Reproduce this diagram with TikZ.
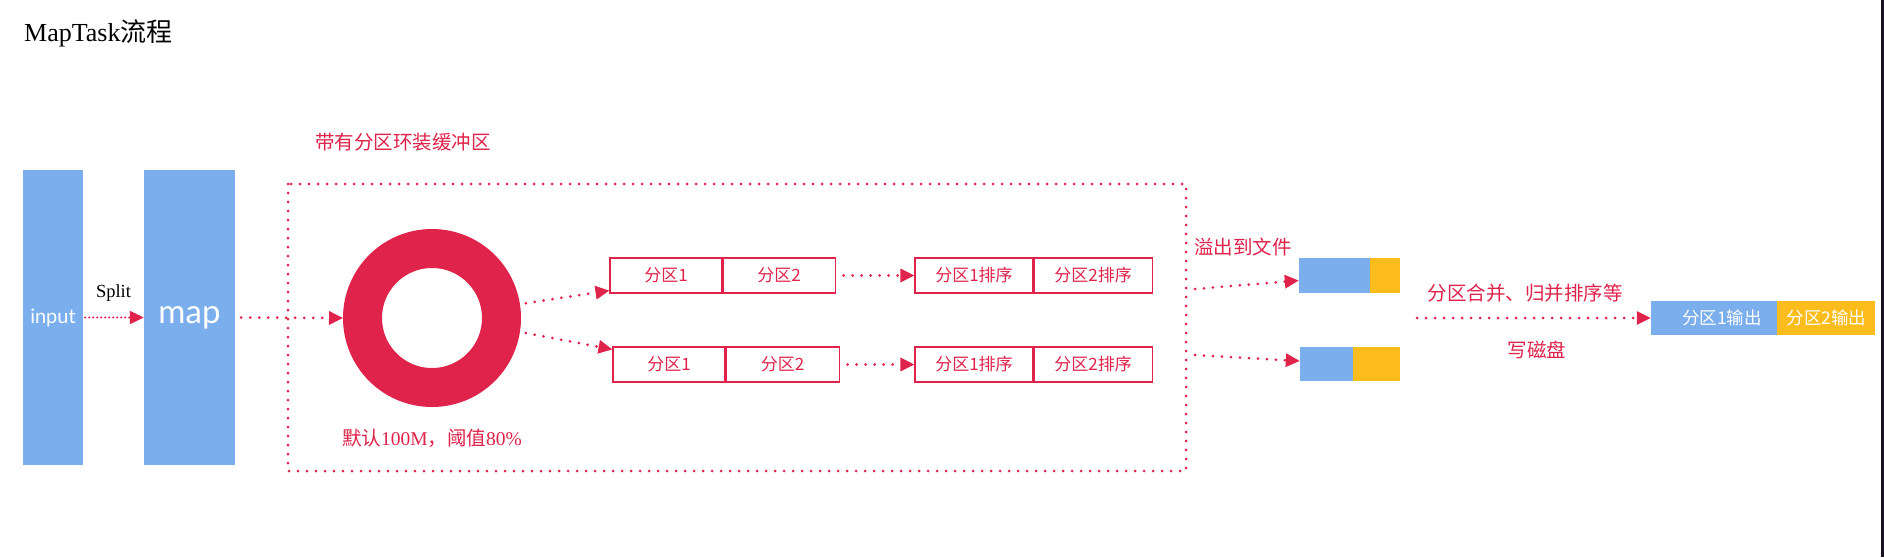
\documentclass[tikz,border=0pt]{standalone}
\usepackage{fontspec}
\newfontfamily\cjk{Noto Sans CJK SC}
\newfontfamily\latosans{Lato}
\newfontfamily\serifL{Liberation Serif}
\usetikzlibrary{arrows.meta,calc}
\definecolor{blueC}{HTML}{7BAEEC}
\definecolor{redC}{HTML}{E0234A}
\definecolor{yelC}{HTML}{FCBD1C}
\definecolor{edgeC}{HTML}{1A1024}
\tikzset{
  bluebox/.style={fill=blueC, draw=none, inner sep=0pt, text=white},
  yelbox/.style={fill=yelC, draw=none, inner sep=0pt, text=white},
  partbox/.style={draw=redC, line width=1.1pt, text=redC, inner sep=0pt,
    minimum height=35pt, font=\cjk\fontsize{17}{17}\selectfont},
  redlabel/.style={text=redC, inner sep=0pt, font=\cjk\fontsize{19.5}{20}\selectfont},
  dotline/.style={draw=redC, line width=3pt, line cap=round, dash pattern=on 0pt off 9pt},
  finedot/.style={draw=redC, line width=2.2pt, line cap=round, dash pattern=on 0pt off 4pt},
  tipA/.style={-{Triangle[length=14pt,width=13pt]}},
}
\begin{document}
\begin{tikzpicture}[x=1pt,y=-1pt]
\useasboundingbox (0,0) rectangle (1884,557);
\fill[white] (0,0) rectangle (1884,557);
\fill[edgeC] (1880.5,0) rectangle (1884,557);

% title
\node[anchor=west, inner sep=0pt, font=\serifL\fontsize{26}{27}\selectfont] (title) at (24,33) {MapTask{\cjk 流程}};

% input and map
\node[bluebox, minimum width=60pt, minimum height=295pt, font=\latosans\fontsize{20}{20}\selectfont] (input) at (53,317.5) {input};
\node[bluebox, minimum width=91pt, minimum height=295pt, font=\latosans\fontsize{33}{33}\selectfont] (map) at (189.5,317.5) {map};
\draw[finedot, tipA] (input.east) ++(2,0) -- (map.west);
\node[inner sep=0pt, font=\serifL\fontsize{18.5}{19}\selectfont] (split) at (113.5,293) {Split};

% buffer box
\draw[dotline] (288,184) rectangle (1186,471);
\node[redlabel, anchor=west] (buflabel) at (315,142) {带有分区环装缓冲区};

% ring
\node[circle, draw=redC, line width=39pt, minimum size=139pt, inner sep=0pt] (ring) at (432,318) {};
\node[redlabel] (ringlabel) at (432,438) {默认{\serifL 100M}，阈值{\serifL 80\%}};
\draw[dotline, tipA, shorten <=6pt] (map.east) -- (ring.west);

% partition boxes
\node[partbox, minimum width=112pt] (p1a) at (666,275.5) {分区1};
\node[partbox, minimum width=112pt, anchor=west] (p1b) at (p1a.east) {分区2};
\node[partbox, minimum width=112pt] (p2a) at (669,364.5) {分区1};
\node[partbox, minimum width=113pt, anchor=west] (p2b) at (p2a.east) {分区2};
\node[partbox, minimum width=118pt] (s1a) at (974,275.5) {分区1排序};
\node[partbox, minimum width=118pt, anchor=west] (s1b) at (s1a.east) {分区2排序};
\node[partbox, minimum width=118pt] (s2a) at (974,364.5) {分区1排序};
\node[partbox, minimum width=118pt, anchor=west] (s2b) at (s2a.east) {分区2排序};

\draw[dotline, tipA, shorten <=6pt] (ring.9) -- ($(p1a.south west)+(0,-3)$);
\draw[dotline, tipA, shorten <=6pt] (ring.-9) -- ($(p2a.north west)+(0,3)$);
\draw[dotline, tipA, shorten <=8pt] (p1b.east) -- (s1a.west);
\draw[dotline, tipA, shorten <=8pt] (p2b.east) -- (s2a.west);

% spill files
\node[bluebox, minimum width=71pt, minimum height=35pt] (f1a) at (1334.5,275.5) {};
\node[yelbox, minimum width=30pt, minimum height=35pt, anchor=west] (f1b) at (f1a.east) {};
\node[bluebox, minimum width=53pt, minimum height=34pt] (f2a) at (1326.5,364) {};
\node[yelbox, minimum width=47pt, minimum height=34pt, anchor=west] (f2b) at (f2a.east) {};
\node[redlabel, anchor=west] (spill) at (1194,247) {溢出到文件};
\coordinate (c1) at (1195,289);
\coordinate (c2) at (1195,355);
\draw[dotline, tipA] (c1) -- ($(f1a.west)+(0,5)$);
\draw[dotline, tipA] (c2) -- ($(f2a.west)+(0,-3)$);

% merge
\coordinate (m0) at (1417,318);
\node[bluebox, minimum width=126pt, minimum height=34pt, font=\cjk\fontsize{17.5}{18}\selectfont] (o1) at (1714,318) {\hspace*{16pt}分区1输出};
\node[yelbox, minimum width=98pt, minimum height=34pt, anchor=west, font=\cjk\fontsize{17.5}{18}\selectfont] (o2) at (o1.east) {分区2输出};
\draw[dotline, tipA] (m0) -- (o1.west);
\node[redlabel] (mergelabel) at (1525,293) {分区合并、归并排序等};
\node[redlabel] (disklabel) at (1537,350) {写磁盘};
\end{tikzpicture}
\end{document}
